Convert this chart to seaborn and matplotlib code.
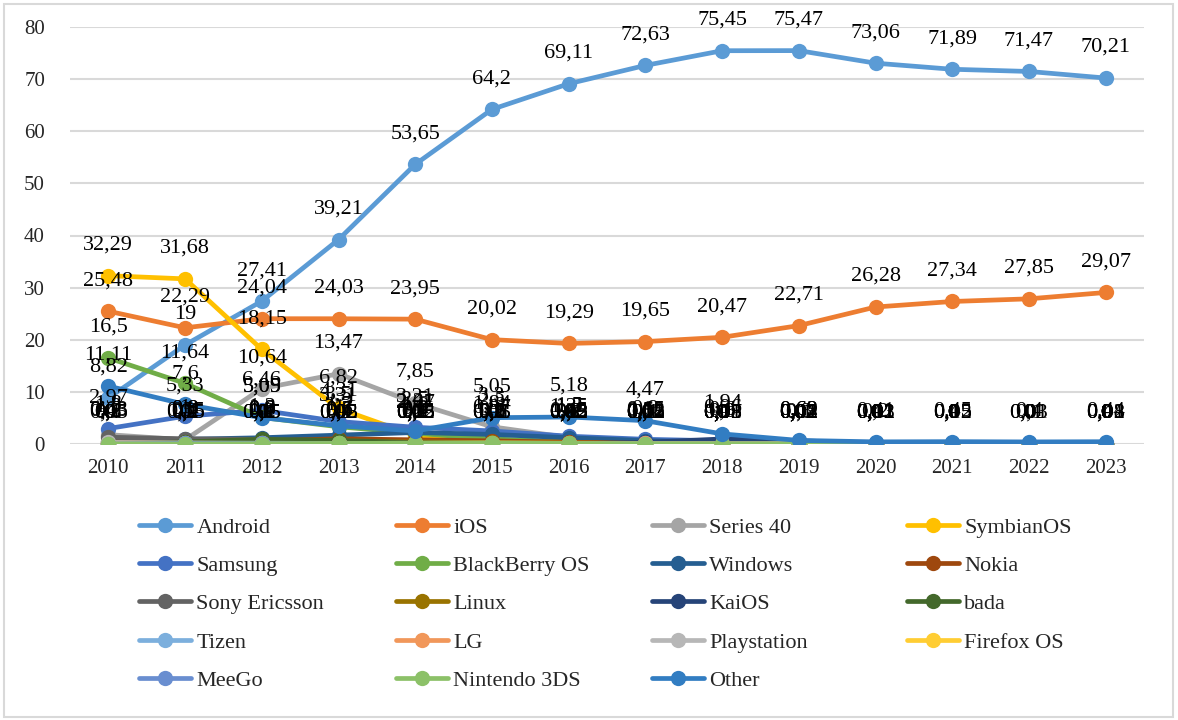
import pandas as pd
import seaborn as sns
import matplotlib.pyplot as plt
from matplotlib.lines import Line2D
from matplotlib.patches import Rectangle

# data (share, %)
years = list(range(2010, 2024))
names = ["Android", "iOS", "Series 40", "SymbianOS", "Samsung", "BlackBerry OS",
         "Windows", "Nokia", "Sony Ericsson", "Linux", "KaiOS", "bada", "Tizen",
         "LG", "Playstation", "Firefox OS", "MeeGo", "Nintendo 3DS", "Other"]

android = [8.82, 19, 27.41, 39.21, 53.65, 64.2, 69.11, 72.63, 75.45, 75.47, 73.06, 71.89, 71.47, 70.21]
ios = [25.48, 22.29, 24.04, 24.03, 23.95, 20.02, 19.29, 19.65, 20.47, 22.71, 26.28, 27.34, 27.85, 29.07]
series40 = [1.8, 0.8, 10.64, 13.47, 7.85, 3.3, 1.25, 0.52, 0.08, 0.02, 0.01, 0, 0, 0]
symbian = [32.29, 31.68, 18.15, 6.82, 1.6, 0.3, 0.1, 0.02, 0, 0, 0, 0, 0, 0]
samsung = [2.97, 5.33, 6.46, 4.31, 3.21, 2.5, 1.5, 0.9, 0.6, 0.3, 0.2, 0.15, 0.1, 0.08]
blackberry = [16.5, 11.64, 5.09, 3.31, 2.07, 0.97, 0.45, 0.15, 0.05, 0.01, 0, 0, 0, 0]
windows = [0.63, 0.9, 1.2, 1.7, 2.21, 1.84, 1.2, 0.65, 0.3, 0.1, 0.03, 0.02, 0.01, 0.01]
nokia = [0.43, 0.55, 0.6, 1.0, 0.8, 0.6, 0.35, 0.15, 0.05, 0.01, 0, 0, 0, 0]
sony = [1.3, 1.0, 0.9, 0.4, 0.2, 0.1, 0.05, 0.02, 0, 0, 0, 0, 0, 0]
linux = [0.1, 0.1, 0.2, 0.6, 0.4, 0.3, 0.2, 0.1, 0.05, 0.02, 0.01, 0, 0, 0]
kaios = [0, 0, 0, 0, 0, 0, 0, 0.32, 0.96, 0.62, 0.12, 0.05, 0.03, 0.02]
bada = [0.05, 0.4, 0.9, 0.7, 0.25, 0.1, 0.03, 0.01, 0, 0, 0, 0, 0, 0]
tizen = [0, 0, 0, 0.02, 0.05, 0.1, 0.12, 0.1, 0.05, 0.02, 0.01, 0, 0, 0]
lg = [0.2, 0.15, 0.1, 0.1, 0.15, 0.2, 0.15, 0.1, 0.05, 0.03, 0.01, 0, 0, 0]
playstation = [0.3, 0.2, 0.15, 0.1, 0.1, 0.05, 0.03, 0.02, 0.01, 0, 0, 0, 0, 0]
firefox = [0, 0, 0, 0.05, 0.1, 0.05, 0.02, 0.01, 0, 0, 0, 0, 0, 0]
meego = [0, 0.1, 0.1, 0.05, 0.02, 0.01, 0, 0, 0, 0, 0, 0, 0, 0]
nintendo = [0, 0, 0.05, 0.1, 0.15, 0.2, 0.1, 0.05, 0.03, 0.01, 0, 0, 0, 0]
other = [11.11, 7.6, 5.05, 3.5, 2.5, 5.05, 5.18, 4.47, 1.94, 0.69, 0.41, 0.45, 0.4, 0.44]

series = [android, ios, series40, symbian, samsung, blackberry, windows, nokia, sony,
          linux, kaios, bada, tizen, lg, playstation, firefox, meego, nintendo, other]

colors = ["#5B9BD5", "#ED7D31", "#A5A5A5", "#FFC000", "#4472C4", "#70AD47",
          "#255E91", "#9E480E", "#636363", "#997300", "#264478", "#43682B",
          "#7CAFDD", "#F1975A", "#B7B7B7", "#FFCD33", "#698ED0", "#8CC168", "#327DC2"]

rows = []
for name, vals in zip(names, series):
    for yr, v in zip(years, vals):
        rows.append({"year": yr, "os": name, "share": v})
df = pd.DataFrame(rows)

sns.set_style("white")
plt.rcParams['font.family'] = ['Liberation Serif', 'DejaVu Serif']
fs = 15

fig = plt.figure(figsize=(11.78, 7.2), dpi=100)
ax = fig.add_axes([70 / 1178, 1 - 444 / 720, (1144 - 70) / 1178, (444 - 27) / 720])

sns.lineplot(data=df, x="year", y="share", hue="os", hue_order=names,
             palette=colors, marker="o", markersize=11, markeredgewidth=0,
             linewidth=3.4, errorbar=None, legend=False, ax=ax)

# data labels above every point
for vals in series:
    for yr, v in zip(years, vals):
        ax.annotate(f"{v:g}".replace(".", ","), (yr, v), xytext=(0, 22),
                    textcoords="offset points", ha="center", va="center",
                    fontsize=fs + 1, color="black")

ax.set_xlim(2009.5, 2023.5)
ax.set_ylim(0, 80)
ax.set_xticks(years)
ax.set_yticks(range(0, 81, 10))
ax.tick_params(axis="y", length=0, pad=18, labelsize=fs)
ax.tick_params(axis="x", length=0, pad=11, labelsize=fs)
ax.grid(axis="y", color="#D9D9D9", linewidth=1.5)
ax.set_axisbelow(True)
for s in ax.spines.values():
    s.set_visible(False)
ax.set_xlabel("")
ax.set_ylabel("")

# legend: four columns, row-major order
col_x = [139, 396, 652, 907]
for c in range(4):
    idx = list(range(c, len(names), 4))
    handles = [Line2D([], [], color=colors[i], linewidth=3.4, marker="o",
                      markersize=11, markeredgewidth=0) for i in idx]
    labels = [names[i] for i in idx]
    fig.legend(handles, labels, loc="upper left",
               bbox_to_anchor=(col_x[c] / 1178, 1 - 517 / 720),
               frameon=False, fontsize=fs + 1, handlelength=2.33,
               handletextpad=0.25, labelspacing=0.8, borderpad=0,
               borderaxespad=0)

fig.patches.append(Rectangle((4 / 1178, 3 / 720), 1169 / 1178, 713 / 720,
                             transform=fig.transFigure, fill=False,
                             edgecolor="#D9D9D9", linewidth=1.5))

fig.savefig("out.png", dpi=100)
